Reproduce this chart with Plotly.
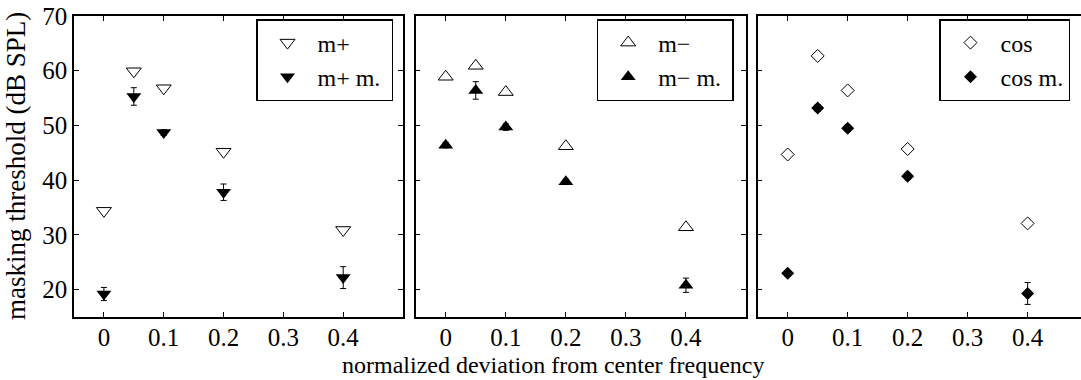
import plotly.graph_objects as go

x_vals = [0, 0.05, 0.1, 0.2, 0.4]

mplus = [34.4, 59.9, 56.8, 45.2, 30.9]
mplus_m = [19.2, 55.3, 48.7, 37.8, 22.2]
mplus_m_err = [1.2, 1.6, 0.5, 1.5, 2.0]

mminus = [58.9, 60.9, 56.1, 46.2, 31.4]
mminus_m = [46.4, 56.4, 49.7, 39.7, 20.8]
mminus_m_err = [0.5, 1.6, 0.6, 0.5, 1.3]

cos_ = [44.7, 62.7, 56.4, 45.7, 32.1]
cos_m = [23.0, 53.2, 49.5, 40.7, 19.3]
cos_m_err = [0.5, 0.6, 0.6, 0.6, 2.0]

x_ticks = [0, 0.1, 0.2, 0.3, 0.4]
y_ticks = [20, 30, 40, 50, 60, 70]

FONT = "Liberation Serif"
FS_TICK = 25
FS_LEG = 24
FS_XT = 24
FS_YT = 27
fig = go.Figure()

panels = [
    ("m+", "m+ m.\u00a0", mplus, mplus_m, mplus_m_err, "triangle-down", 13, "legend"),
    ("m\u2212", "m\u2212 m.\u00a0", mminus, mminus_m, mminus_m_err, "triangle-up", 13, "legend2"),
    ("cos", "cos m.", cos_, cos_m, cos_m_err, "diamond", 10, "legend3"),
]
for i, (n1, n2, yo, yf, ye, sym, sz, leg) in enumerate(panels):
    xa = "x" if i == 0 else f"x{i+1}"
    ya = "y" if i == 0 else f"y{i+1}"
    fig.add_trace(go.Scatter(x=x_vals, y=yo, mode="markers", name=n1,
                             xaxis=xa, yaxis=ya, legend=leg,
                             marker=dict(symbol=sym + "-open", size=sz, color="black",
                                         line=dict(width=1, color="black"))))
    fig.add_trace(go.Scatter(x=x_vals, y=yf, mode="markers", name=n2,
                             xaxis=xa, yaxis=ya, legend=leg,
                             error_y=dict(type="data", array=ye, visible=True,
                                          color="black", thickness=1, width=3),
                             marker=dict(symbol=sym, size=sz, color="black",
                                         line=dict(width=0))))

W, H = 1081, 380
ml, mr, mt, mb = 74, 0, 16, 63
pw = W - ml - mr
ph = H - mt - mb
doms = [(0, 329 / pw), (341.7 / pw, 672 / pw), (683.7 / pw, 1.0)]
xranges = [[-0.05, 0.5], [-0.05, 0.5], [-0.05, 0.489]]

axis_common = dict(showline=True, linecolor="black", linewidth=1.5,
                   ticks="inside", ticklen=5, tickwidth=1, tickcolor="black",
                   showgrid=False, zeroline=False,
                   tickfont=dict(family=FONT, size=FS_TICK, color="black"))

layout = dict(width=W, height=H, margin=dict(l=ml, r=mr, t=mt, b=mb),
              plot_bgcolor="white", paper_bgcolor="white",
              font=dict(family=FONT, size=FS_TICK, color="black"))
for i in range(3):
    sfx = "" if i == 0 else str(i + 1)
    layout["xaxis" + sfx] = dict(axis_common, domain=list(doms[i]), range=xranges[i],
                                 tickvals=x_ticks, ticktext=["0", "0.1", "0.2", "0.3", "0.4"],
                                 mirror="ticks", anchor="y" + sfx, ticklabelstandoff=-3)
    ya = dict(axis_common, domain=[0, 1], range=[15, 70], tickvals=y_ticks,
              anchor="x" + sfx, mirror="ticks" if i < 2 else False,
              showticklabels=(i == 0))
    layout["yaxis" + sfx] = ya

leg_x = [(256 - ml) / pw, (596.7 - ml) / pw, (939 - ml) / pw]
legy = (H - mb - 19) / ph
for i, k in enumerate(["legend", "legend2", "legend3"]):
    layout[k] = dict(x=leg_x[i], y=legy, xanchor="left", yanchor="top",
                     bgcolor="white", bordercolor="black", borderwidth=1.5,
                     font=dict(family=FONT, size=FS_LEG, color="black"),
                     itemwidth=50, tracegroupgap=0)

fig.update_layout(**layout)
fig.add_annotation(text="normalized deviation from center frequency", xref="paper", yref="paper",
                   x=(553 - ml) / pw, y=-(365 - (H - mb)) / ph, xanchor="center", yanchor="middle",
                   showarrow=False, font=dict(family=FONT, size=FS_XT, color="black"))
fig.add_annotation(text="masking threshold (dB SPL)", xref="paper", yref="paper",
                   x=-(ml - 16) / pw, y=(H - mb - 166) / ph, xanchor="center", yanchor="middle",
                   textangle=-90, showarrow=False, font=dict(family=FONT, size=FS_YT, color="black"))
fig.write_html("out.html")
